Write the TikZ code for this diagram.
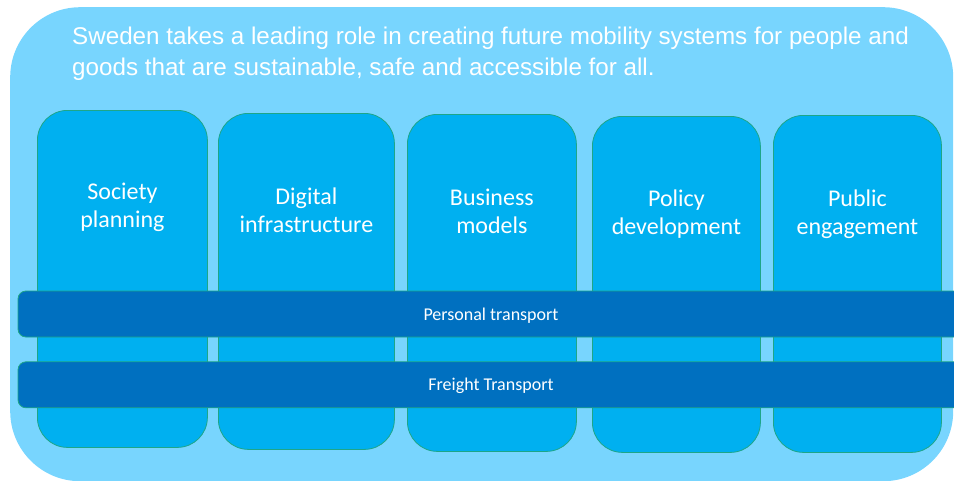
\documentclass[tikz,border=0pt]{standalone}
\usepackage{fontspec}
\setmainfont{Carlito}
\newfontfamily\headfont{Liberation Sans}
\usetikzlibrary{positioning}
\definecolor{skyback}{RGB}{120,213,254}
\definecolor{colfill}{RGB}{0,176,240}
\definecolor{barfill}{RGB}{0,112,192}
\definecolor{edgegreen}{RGB}{30,166,136}
\tikzset{
	%Define style for the big background box
	backbox/.style={
		rectangle,
		rounded corners=70pt,
		fill=skyback,
		inner sep=0pt},
	%Define style for the columns
	pillar/.style={
		rectangle,
		rounded corners=30pt,
		draw=edgegreen, line width=0.8pt,
		fill=colfill,
		minimum width=170pt,
		minimum height=337pt,
		inner sep=0pt,
		anchor=north west},
	% Define style for the column titles
	pillartext/.style={
		text=white,
		font=\fontsize{24}{28.5}\selectfont,
		align=center},
	% Define style for the horizontal bars
	band/.style={
		rectangle,
		rounded corners=8pt,
		draw=edgegreen, line width=0.8pt,
		fill=barfill,
		text=white,
		font=\fontsize{18}{21}\selectfont,
		text height=12pt, text depth=0pt,
		minimum width=946pt,
		minimum height=46pt,
		inner sep=0pt}
}
\begin{document}
\begin{tikzpicture}[x=1pt,y=-1pt]
	\useasboundingbox (0,0) rectangle (954,480);
	\clip (0,0) rectangle (954,480);
	
	\node[backbox, minimum width=943pt, minimum height=474pt, anchor=north west] (bg) at (10,7) {};
	\node[anchor=north west, inner sep=0pt, text=white, align=left,
		font=\headfont\fontsize{24.2}{31}\selectfont] (vision) at (72,27)
		{Sweden takes a leading role in creating future mobility systems for people and\\
		goods that are sustainable, safe and accessible for all.};
	
	\node[pillar] (society) at (37,110) {};
	\node[pillar, minimum width=176pt, minimum height=336pt] (digital) at (218,113) {};
	\node[pillar, minimum width=169pt] (business) at (407,114) {};
	\node[pillar, minimum width=168pt, minimum height=336pt] (policy) at (592,116) {};
	\node[pillar, minimum width=168pt] (public) at (773,115) {};
	
	\node[pillartext, below = 69pt of society.north] (society-t) {Society\\planning};
	\node[pillartext, below = 71pt of digital.north] (digital-t) {Digital\\infrastructure};
	\node[pillartext, below = 71pt of business.north] (business-t) {Business\\models};
	\node[pillartext, below = 70pt of policy.north] (policy-t) {Policy\\development};
	\node[pillartext, below = 71pt of public.north] (public-t) {Public\\engagement};
	
	\node[band] (personal) at (491,314) {Personal transport};
	\node[band, below = 24pt of personal] (freight) {Freight Transport};
	
\end{tikzpicture}
\end{document}
